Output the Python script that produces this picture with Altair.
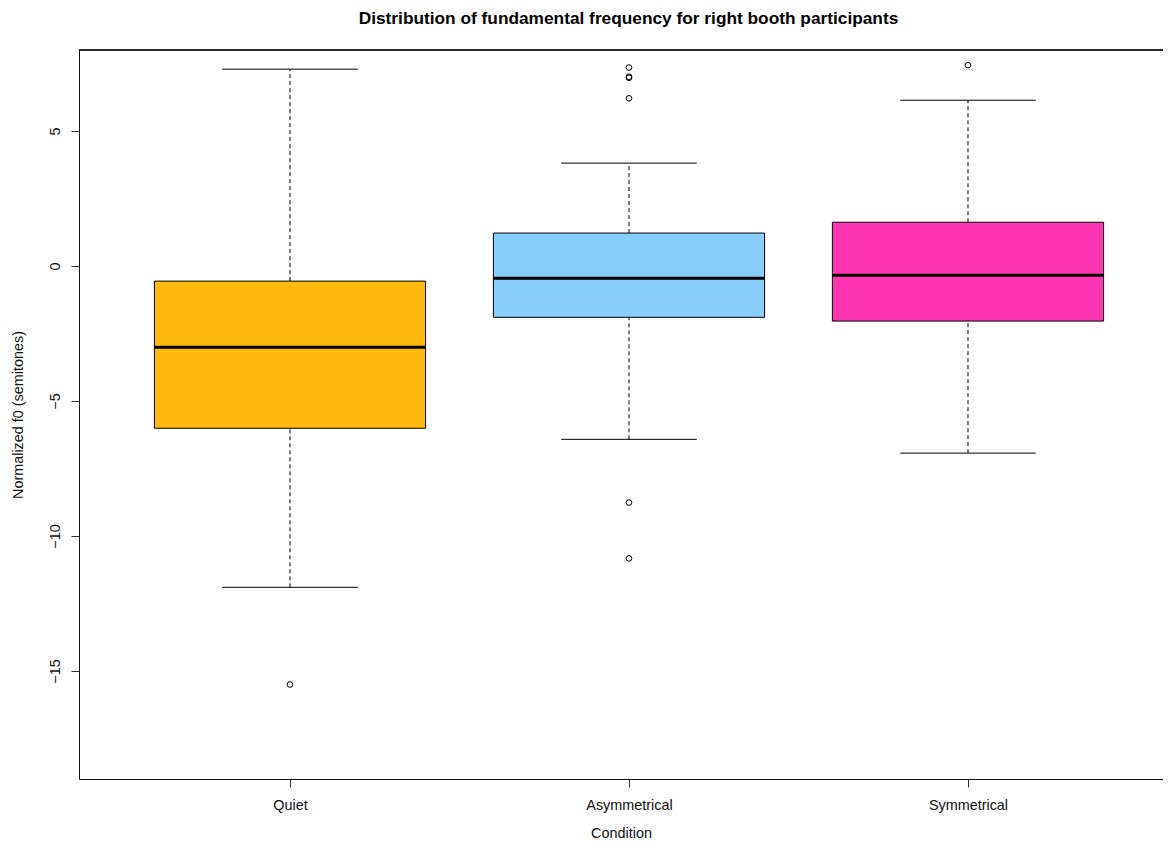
import altair as alt
import pandas as pd

# ---- data ----
conditions = ["Quiet", "Asymmetrical", "Symmetrical"]
lower_whisker = [-11.90, -6.42, -6.93]
q1 = [-6.01, -1.90, -2.04]
median = [-3.01, -0.45, -0.34]
q3 = [-0.56, 1.22, 1.62]
upper_whisker = [7.29, 3.81, 6.14]
fill_colors = ["#FFB90F", "#87CEFA", "#FF34B3"]

outlier_condition = ["Quiet", "Asymmetrical", "Asymmetrical", "Asymmetrical",
                     "Asymmetrical", "Asymmetrical", "Asymmetrical", "Symmetrical"]
outlier_value = [-15.50, 7.35, 7.01, 6.97, 6.21, -8.76, -10.83, 7.44]

y_ticks = [-15, -10, -5, 0, 5]
chart_title = ["Distribution of fundamental frequency for right booth participants"]

# ---- tables ----
boxes = pd.DataFrame({
    "condition": conditions,
    "pos": list(range(1, len(conditions) + 1)),
    "lo": lower_whisker, "q1": q1, "med": median, "q3": q3, "hi": upper_whisker,
    "fill": fill_colors,
})
outliers = pd.DataFrame({"condition": outlier_condition, "value": outlier_value})
outliers["pos"] = outliers["condition"].map({c: i + 1 for i, c in enumerate(conditions)})
titles = pd.DataFrame({"t": chart_title})

W, H = 1084, 729
FONT = "Liberation Sans"
FS = 14.4

xscale = alt.Scale(domain=[0.3776, 0.3776 + W / 339.0], nice=False, zero=False)
yscale = alt.Scale(domain=[-19, 8], nice=False, zero=False)

label_expr = "[" + ",".join("'%s'" % c for c in conditions) + "][datum.value - 1]"

xaxis = alt.Axis(values=[1, 2, 3], labelExpr=label_expr, title="Condition",
                 grid=False, tickSize=8, tickColor="#333", domainColor="#111",
                 labelFont=FONT, labelFontSize=FS, labelColor="#111",
                 labelBaseline="middle", labelPadding=18,
                 titleFont=FONT, titleFontSize=FS, titleFontWeight="normal", titleColor="#111",
                 titleY=58, titleBaseline="alphabetic")
yaxis = alt.Axis(values=y_ticks, title="Normalized f0 (semitones)", grid=False,
                 tickSize=8, tickColor="#333", domainColor="#111",
                 labelFont=FONT, labelFontSize=FS, labelColor="#111",
                 labelAngle=270, labelAlign="center", labelBaseline="alphabetic",
                 labelPadding=12,
                 titleFont=FONT, titleFontSize=FS, titleFontWeight="normal", titleColor="#111",
                 titleAngle=270, titleX=-61, titleY=H / 2, titleAlign="center",
                 titleBaseline="middle")

base = alt.Chart(boxes).transform_calculate(
    left="datum.pos - 0.4", right="datum.pos + 0.4",
    capl="datum.pos - 0.2", capr="datum.pos + 0.2",
)

upper_w = base.mark_rule(color="black", strokeWidth=1, strokeDash=[4, 3]).encode(
    x=alt.X("pos:Q", scale=xscale, axis=xaxis),
    y=alt.Y("q3:Q", scale=yscale, axis=yaxis),
    y2="hi:Q",
)
lower_w = base.mark_rule(color="black", strokeWidth=1, strokeDash=[4, 3]).encode(
    x="pos:Q", y="lo:Q", y2="q1:Q",
)
cap_hi = base.mark_rule(color="black", strokeWidth=1).encode(
    x="capl:Q", x2="capr:Q", y="hi:Q",
)
cap_lo = base.mark_rule(color="black", strokeWidth=1).encode(
    x="capl:Q", x2="capr:Q", y="lo:Q",
)
box = base.mark_rect(stroke="black", strokeWidth=1).encode(
    x="left:Q", x2="right:Q", y="q1:Q", y2="q3:Q",
    fill=alt.Fill("fill:N", scale=None, legend=None),
)
med = base.mark_rule(color="black", strokeWidth=3).encode(
    x="left:Q", x2="right:Q", y="med:Q",
)
pts = alt.Chart(outliers).mark_point(shape="circle", filled=False, size=32,
                                     stroke="black", strokeWidth=1, opacity=1).encode(
    x="pos:Q", y="value:Q",
)
top_line = alt.Chart(boxes).mark_rule(color="#111", strokeWidth=1).encode(
    x=alt.value(0), x2=alt.value(W), y=alt.value(0),
)
title_text = alt.Chart(titles).mark_text(
    font=FONT, fontSize=17.3, fontWeight="bold", color="#000",
    align="center", baseline="middle",
).encode(text="t:N", x=alt.value(549.5), y=alt.value(-31))

chart = alt.layer(upper_w, lower_w, cap_hi, cap_lo, box, med, pts, top_line,
                  title_text).properties(
    width=W, height=H,
    autosize=alt.AutoSizeParams(type="none"),
    padding={"left": 71, "top": 42, "right": 0, "bottom": 61},
).configure_view(stroke=None).configure(background="white")

chart.save("out.html", embed_options={"renderer": "svg", "actions": False})
